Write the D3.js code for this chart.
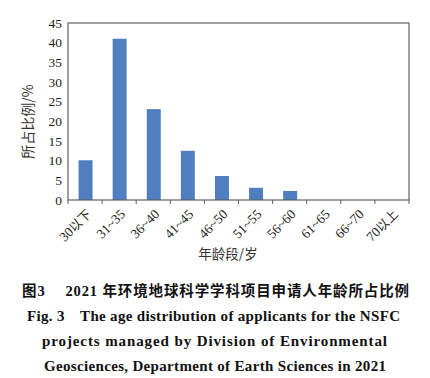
<!DOCTYPE html>
<html>
<head>
<meta charset="utf-8">
<script src="https://cdn.jsdelivr.net/npm/d3@7"></script>
<style>
  html, body { margin: 0; padding: 0; background: #fff; }
  svg { display: block; }
</style>
</head>
<body>
<div id="chart"></div>
<script>
// Data
const ageGroups = ["30以下", "31~35", "36~40", "41~45", "46~50", "51~55", "56~60", "61~65", "66~70", "70以上"];
const shares = [10.1, 41.0, 23.1, 12.5, 6.1, 3.1, 2.3, 0, 0, 0];
const yTicks = [0, 5, 10, 15, 20, 25, 30, 35, 40, 45];

const W = 430, H = 378;
const plot = { left: 68, top: 23, right: 409, bottom: 200 };

const svg = d3.select("#chart").append("svg")
    .attr("width", W)
    .attr("height", H);

const x = d3.scaleBand()
    .domain(ageGroups)
    .range([plot.left, plot.right])
    .padding(0);

const y = d3.scaleLinear()
    .domain([0, 45])
    .range([plot.bottom, plot.top]);

const serif = "'Liberation Serif', 'Times New Roman', serif";
const cjk = "'Noto Sans CJK SC', sans-serif";

// Bars
const barW = x.bandwidth() * 0.41;
svg.selectAll(".bar")
    .data(ageGroups.map((g, i) => ({ g, v: shares[i] })))
    .enter()
    .append("rect")
    .attr("class", "bar")
    .attr("x", d => x(d.g) + x.bandwidth() / 2 - barW / 2 + 0.5)
    .attr("y", d => y(d.v))
    .attr("width", barW)
    .attr("height", d => y(0) - y(d.v))
    .attr("fill", "#4f7fbf");

// Frame
svg.append("rect")
    .attr("x", plot.left)
    .attr("y", plot.top)
    .attr("width", plot.right - plot.left)
    .attr("height", plot.bottom - plot.top)
    .attr("fill", "none")
    .attr("stroke", "#5f5f5f")
    .attr("stroke-width", 1.2);

// Y axis labels
svg.append("g")
    .selectAll("text")
    .data(yTicks)
    .enter()
    .append("text")
    .attr("x", plot.left - 6)
    .attr("y", d => y(d))
    .attr("dy", "0.35em")
    .attr("text-anchor", "end")
    .style("font-family", serif)
    .style("font-size", "13.5px")
    .style("fill", "#222")
    .text(d => d);

// X axis tick marks at band boundaries
const edges = ageGroups.map(g => x(g)).concat([plot.right]);
svg.append("g")
    .selectAll("line")
    .data(edges)
    .enter()
    .append("line")
    .attr("x1", d => d)
    .attr("x2", d => d)
    .attr("y1", plot.bottom)
    .attr("y2", plot.bottom + 4)
    .attr("stroke", "#5f5f5f")
    .attr("stroke-width", 1);

// X axis labels (rotated)
svg.append("g")
    .selectAll("text")
    .data(ageGroups)
    .enter()
    .append("text")
    .attr("text-anchor", "end")
    .attr("transform", d => `translate(${x(d) + x.bandwidth() / 2 + 7},${plot.bottom + 15}) rotate(-45)`)
    .style("font-size", "13.5px")
    .style("fill", "#222")
    .each(function(d) {
        const t = d3.select(this);
        const m = d.match(/^(\d+)(.*)$/);
        if (/[以]/.test(d)) {
            t.append("tspan").style("font-family", serif).text(m[1]);
            t.append("tspan").style("font-family", cjk).style("font-size", "12.5px").text(m[2]);
        } else {
            t.style("font-family", serif).text(d);
        }
    });

// Axis titles
svg.append("text")
    .attr("transform", `translate(33,${(plot.top + plot.bottom) / 2 + 10}) rotate(-90)`)
    .attr("text-anchor", "middle")
    .style("font-family", cjk)
    .style("font-size", "14px")
    .style("fill", "#333")
    .text("所占比例/%");

svg.append("text")
    .attr("x", 228)
    .attr("y", 259)
    .attr("text-anchor", "middle")
    .style("font-family", cjk)
    .style("font-size", "13.5px")
    .style("fill", "#333")
    .text("年龄段/岁");

// Caption
const cap1 = svg.append("text")
    .attr("x", 22)
    .attr("y", 296)
    .attr("textLength", 387)
    .attr("lengthAdjust", "spacing")
    .style("font-size", "14.5px")
    .style("font-weight", "bold")
    .style("fill", "#111");
cap1.append("tspan").style("font-family", cjk).text("图");
cap1.append("tspan").style("font-family", serif).text("3\u2003 2021 ");
cap1.append("tspan").style("font-family", cjk).text("年环境地球科学学科项目申请人年龄所占比例");

const capLines = [
    { text: "Fig. 3\u2003The age distribution of applicants for the NSFC", x: 27, y: 321, len: 373 },
    { text: "projects managed by Division of Environmental", x: 42, y: 346, len: 345 },
    { text: "Geosciences, Department of Earth Sciences in 2021", x: 44, y: 371, len: 342 }
];
svg.append("g")
    .selectAll("text")
    .data(capLines)
    .enter()
    .append("text")
    .attr("x", d => d.x)
    .attr("y", d => d.y)
    .attr("textLength", d => d.len)
    .attr("lengthAdjust", "spacing")
    .style("font-family", serif)
    .style("font-size", "15px")
    .style("font-weight", "bold")
    .style("fill", "#111")
    .text(d => d.text);
</script>
</body>
</html>
